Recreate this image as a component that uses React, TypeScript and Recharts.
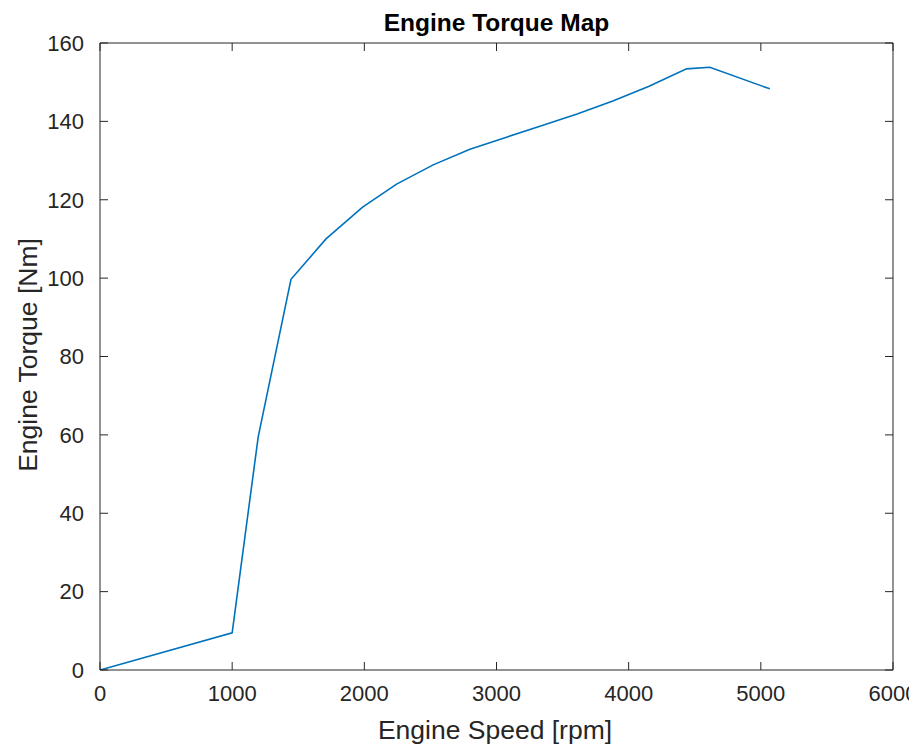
import React from "react";
import { LineChart, Line, XAxis, YAxis } from "recharts";

const speedRpm = [0, 1000, 1197, 1445, 1710, 1987, 2244, 2521, 2799, 3070, 3340, 3610, 3880, 4150, 4438, 4614, 5068];
const torqueNm = [0, 9.5, 59.5, 99.7, 110.0, 118.1, 124.0, 128.9, 132.9, 135.9, 138.9, 141.9, 145.2, 148.9, 153.4, 153.8, 148.3];
const xTicks = [0, 1000, 2000, 3000, 4000, 5000, 6000];
const yTicks = [0, 20, 40, 60, 80, 100, 120, 140, 160];
const chartTitle = "Engine Torque Map";
const xTitle = "Engine Speed [rpm]";
const yTitle = "Engine Torque [Nm]";

const data = speedRpm.map((s, i) => ({ speed: s, torque: torqueNm[i] }));

const FONT = '"Liberation Sans", Arial, Helvetica, sans-serif';
const AX = "#262626";
const TL = 8;

const tickStyle = { fill: AX, fontSize: 22, fontFamily: FONT };
const NoLabel = () => <g />;

export default function App() {
  const W = 909;
  const H = 741;
  return (
    <div style={{ position: "relative", width: W, height: H, background: "#fff" }}>
      <LineChart width={W} height={H} data={data} margin={{ top: 34, right: 23, left: 32, bottom: 29 }}>
        <XAxis
          xAxisId="b"
          dataKey="speed"
          type="number"
          domain={[0, 6000]}
          ticks={xTicks}
          interval={0}
          allowDataOverflow
          height={50}
          tickSize={-TL}
          tickMargin={15 + TL}
          tick={tickStyle}
          axisLine={{ stroke: AX, strokeWidth: 1 }}
          tickLine={{ stroke: AX, strokeWidth: 1 }}
        />
        <XAxis
          xAxisId="t"
          orientation="top"
          dataKey="speed"
          type="number"
          domain={[0, 6000]}
          ticks={xTicks}
          interval={0}
          allowDataOverflow
          height={1}
          tickSize={-TL}
          tick={<NoLabel />}
          axisLine={{ stroke: AX, strokeWidth: 1 }}
          tickLine={{ stroke: AX, strokeWidth: 1 }}
        />
        <YAxis
          yAxisId="l"
          type="number"
          domain={[0, 160]}
          ticks={yTicks}
          interval={0}
          allowDataOverflow
          width={60}
          tickSize={-TL}
          tickMargin={16 + TL}
          tick={tickStyle}
          axisLine={{ stroke: AX, strokeWidth: 1 }}
          tickLine={{ stroke: AX, strokeWidth: 1 }}
        />
        <YAxis
          yAxisId="r"
          orientation="right"
          type="number"
          domain={[0, 160]}
          ticks={yTicks}
          interval={0}
          allowDataOverflow
          width={1}
          tickSize={-TL}
          tick={<NoLabel />}
          axisLine={{ stroke: AX, strokeWidth: 1 }}
          tickLine={{ stroke: AX, strokeWidth: 1 }}
        />
        <Line
          xAxisId="t"
          yAxisId="r"
          type="linear"
          dataKey="torque"
          stroke="none"
          strokeWidth={0}
          dot={false}
          activeDot={false}
          legendType="none"
          isAnimationActive={false}
        />
        <Line
          xAxisId="b"
          yAxisId="l"
          type="linear"
          dataKey="torque"
          stroke="#0072BD"
          strokeWidth={1.6}
          dot={false}
          activeDot={false}
          isAnimationActive={false}
        />
      </LineChart>
      <svg width={W} height={H} style={{ position: "absolute", left: 0, top: 0, pointerEvents: "none" }}>
        <text x={488.5} y={22.5} textAnchor="middle" fontSize={24.5} fontWeight="bold" fontFamily={FONT} fill="#000">
          {chartTitle}
        </text>
        <text x={487} y={731} textAnchor="middle" fontSize={26.5} fontFamily={FONT} fill={AX}>
          {xTitle}
        </text>
        <text
          x={0}
          y={0}
          transform="translate(29, 347) rotate(-90)"
          textAnchor="middle"
          fontSize={26.5}
          fontFamily={FONT}
          fill={AX}
        >
          {yTitle}
        </text>
      </svg>
    </div>
  );
}
